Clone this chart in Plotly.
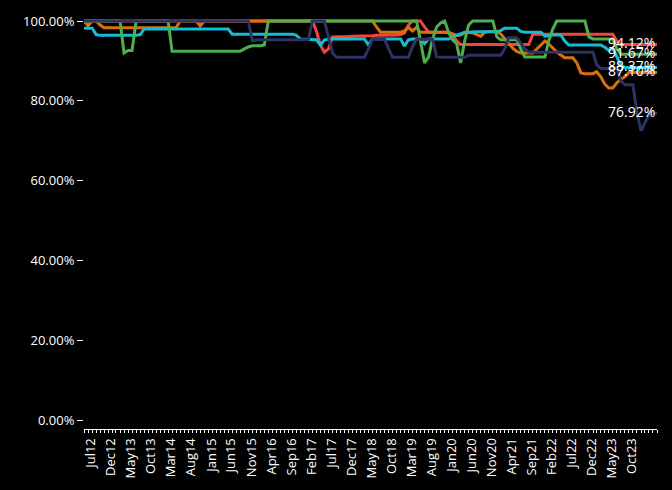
import plotly.graph_objects as go
import pandas as pd

# ---------------- data ----------------
months = pd.date_range("2012-07-01", "2024-06-01", freq="MS")

red = (
    [100] * 12 +
    [100] * 12 +
    [100] * 12 +
    [100] * 12 +
    [100] * 10 + [97.5, 94.0] +
    [92.2, 93.0, 96.0, 96.0, 96.0, 96.1, 96.1, 96.2, 96.2, 96.2, 96.3, 96.3] +
    [96.3, 96.4, 96.4, 96.4, 96.5, 96.5, 96.5, 96.6, 97.0, 99.0, 100, 100] +
    [100, 98.5, 97.2, 97.2, 97.2, 97.2, 97.2, 97.0, 96.5, 95.0, 94.1, 94.1] +
    [94.1] * 12 +
    [94.1, 94.1, 94.1, 94.1] + [96.7] * 8 +
    [96.7] * 12 +
    [96.7, 95.0] + [94.12] * 10
)

orange = (
    [100, 98.8, 100, 100, 99.0, 98.3, 98.3, 98.3, 98.3, 98.3, 98.3, 98.3] +
    [98.3] * 12 +
    [100, 100, 100, 100, 100, 98.8, 100, 100, 100, 100, 100, 100] +
    [100] * 12 +
    [100] * 12 +
    [100] * 12 +
    [100, 98.5, 97.2, 97.2, 97.2, 97.2, 97.2, 97.2, 97.5, 98.4, 97.5, 98.4] +
    [97.2, 97.2, 97.2, 97.2, 97.2, 97.2, 97.2, 97.2, 96.8, 96.4, 96.5, 97.0] +
    [97.2, 97.0, 96.6, 96.2, 97.2, 97.4, 97.4, 97.4, 96.8, 95.5, 94.3, 93.2] +
    [92.4, 92.0, 92.0, 92.0, 92.0, 93.0, 94.0, 95.0, 94.3, 93.3, 92.2, 91.5] +
    [90.8, 90.8, 90.8, 89.5, 87.0, 86.8, 86.8, 86.8, 87.3, 86.0, 84.2, 83.2] +
    [83.2, 84.5, 85.4, 86.0] + [87.10] * 8
)

green = (
    [100] * 10 + [92.0, 92.6] +
    [92.6] + [100] * 9 + [92.4, 92.4] +
    [92.4] * 12 +
    [92.4, 92.4, 92.4, 92.4, 93.0, 93.5, 93.8, 93.8, 93.8, 94.0, 100, 100] +
    [100] * 12 +
    [100] * 12 +
    [100] * 12 +
    [95.0, 89.5, 91.0, 95.5, 98.5, 99.5, 100, 97.0, 95.3, 94.3, 89.5, 95.0] +
    [99.0, 100, 100, 100, 100, 100, 100, 96.0, 95.3, 95.3, 95.3, 95.3] +
    [95.3, 93.0, 91.0, 91.0, 91.0, 91.0, 91.0, 91.0, 95.0, 98.0, 100, 100] +
    [100] * 6 + [96.0, 95.5, 95.5, 95.5, 95.5, 95.5] +
    [95.5, 93.0] + [91.67] * 10
)

cyan = (
    [98.2, 98.2, 98.2, 96.6] + [96.4] * 8 +
    [96.4, 96.4, 96.6] + [98.0] * 9 +
    [98.0] * 12 +
    [98.0] + [96.7] * 11 +
    [96.7] * 5 + [96.4, 95.4, 95.4, 95.4, 95.4, 95.3, 94.0] +
    [95.2] + [95.5] * 10 + [94.0] +
    [95.5] * 8 + [93.7, 95.3, 95.5, 95.5] +
    [95.5, 94.3] + [95.5] * 6 + [96.0, 96.4, 96.8, 97.2] +
    [97.2] + [97.3] * 7 + [97.6, 98.2, 98.2, 98.2] +
    [98.2, 97.4] + [97.2] * 5 + [96.2, 96.4, 96.5, 96.5, 96.5] +
    [95.0] + [94.0] * 9 + [93.4, 92.6] +
    [93.2, 91.0, 88.9] + [88.37] * 9
)

navy = (
    [100] * 12 +
    [100] * 12 +
    [100] * 12 +
    [100] * 6 + [95.0] + [95.3] * 5 +
    [95.3] * 9 + [100, 100, 100] +
    [100, 96.0, 92.0] + [90.9] * 8 + [93.0] +
    [95.4] * 4 + [93.0] + [90.9] * 5 + [93.5, 95.4] +
    [95.4] * 4 + [91.0] + [90.9] * 7 +
    [91.4] * 9 + [93.0, 95.8, 95.8] +
    [95.8, 94.5, 93.0] + [92.2] * 9 +
    [92.2] * 8 + [89.0, 88.1, 88.1, 88.1] +
    [88.1, 88.1, 85.0, 84.0, 84.0, 84.0, 77.0, 72.5, 74.5, 76.5, 76.9, 76.92]
)

tick_labels = ["Jul12", "Dec12", "May13", "Oct13", "Mar14", "Aug14", "Jan15",
               "Jun15", "Nov15", "Apr16", "Sep16", "Feb17", "Jul17", "Dec17",
               "May18", "Oct18", "Mar19", "Aug19", "Jan20", "Jun20", "Nov20",
               "Apr21", "Sep21", "Feb22", "Jul22", "Dec22", "May23", "Oct23"]
tick_months = list(months[::5][:len(tick_labels)])

y_ticks = [0, 0.2, 0.4, 0.6, 0.8, 1.0]

series = [
    ("red", red, "#F2453D"),
    ("orange", orange, "#DB7009"),
    ("cyan", cyan, "#14BCD6"),
    ("green", green, "#4DAF4E"),
    ("navy", navy, "#2D3263"),
]

# ---------------- figure ----------------
fig = go.Figure()
for name, vals, col in series:
    fig.add_trace(go.Scatter(
        x=months, y=[v / 100 for v in vals], mode="lines", name=name,
        line=dict(color=col, width=3), hoverinfo="skip"))

for name, vals, col in series:
    fig.add_annotation(
        x=months[-1], y=vals[-1] / 100, text=f"{vals[-1]:.2f}%",
        showarrow=False, xanchor="right", yanchor="middle", yshift=2,
        font=dict(color="white", size=14, family="Open Sans"))

fig.update_layout(
    width=672, height=490,
    paper_bgcolor="black", plot_bgcolor="black",
    margin=dict(l=84, r=15, t=13, b=60),
    showlegend=False,
    font=dict(family="Open Sans", color="white", size=13),
)
fig.update_xaxes(
    type="date",
    range=[months[0], months[-1]],
    tickvals=tick_months, ticktext=tick_labels,
    tickangle=-90, ticks="outside", ticklen=3, tickcolor="white",
    ticklabelshift=7,
    showline=True, linecolor="white", linewidth=1,
    showgrid=False, zeroline=False,
    tickfont=dict(size=13, color="white"),
    minor=dict(dtick="M1", tick0=str(months[0].date()), ticks="outside",
               ticklen=3, tickcolor="white", showgrid=False),
)
fig.update_yaxes(
    range=[-0.022, 1.005],
    tickvals=y_ticks, tickformat=".2%",
    ticks="outside", ticklen=6, tickcolor="white",
    showline=False, showgrid=False, zeroline=False,
    tickfont=dict(size=13, color="white"),
)

fig.write_html(
    "out.html",
    config={"displayModeBar": False},
    post_script="document.body.style.margin='0';document.body.style.background='black';",
)
